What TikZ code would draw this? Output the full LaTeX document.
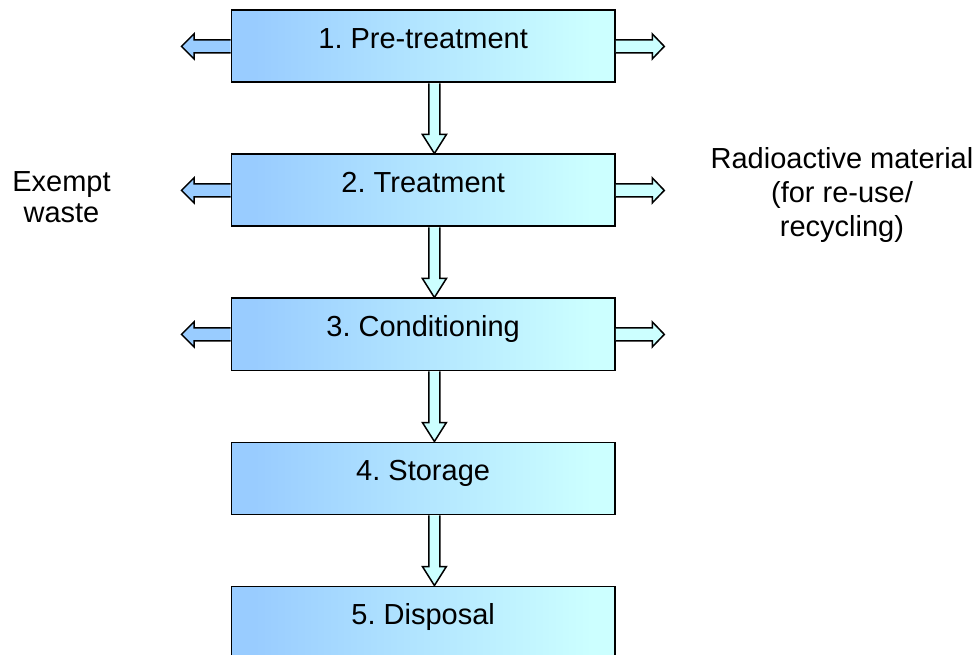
\documentclass[tikz,border=0pt]{standalone}
\usepackage{fontspec}
\setmainfont{Liberation Sans}
\usetikzlibrary{calc}
\frenchspacing

\definecolor{stepblue}{HTML}{99CCFF}
\definecolor{stepcyan}{HTML}{CCFFFF}
% horizontal fill of the step boxes: 25bp = left edge, 75bp = right edge
\pgfdeclarehorizontalshading{stepshade}{100bp}{%
  color(0bp)=(stepblue); color(28bp)=(stepblue);
  color(72bp)=(stepcyan); color(100bp)=(stepcyan)}

% hollow block arrow from the bottom of one step to the top of the next
\newcommand{\downfat}[2]{%
  \draw[fatarrow, fill=stepcyan]
    ($(#1.south)+(5.75,0)$) -- ($(#2.north)+(5.75,-19)$)
    -- ($(#2.north)+(-0.75,-19)$) -- ($(#2.north)+(11.25,0)$)
    -- ($(#2.north)+(23.25,-19)$) -- ($(#2.north)+(16.75,-19)$)
    -- ($(#1.south)+(16.75,0)$);}
% side outputs of a step
\newcommand{\leftfat}[1]{%
  \coordinate (#1-out-w) at ($(#1.west)+(-49,0)$);
  \draw[fatarrow, fill=stepblue]
    ($(#1.west)+(0,-6.5)$) -- ($(#1.west)+(-36.5,-6.5)$)
    -- ($(#1.west)+(-36.5,-12.5)$) -- (#1-out-w)
    -- ($(#1.west)+(-36.5,12.5)$) -- ($(#1.west)+(-36.5,6.5)$)
    -- ($(#1.west)+(0,6.5)$);}
\newcommand{\rightfat}[1]{%
  \coordinate (#1-out-e) at ($(#1.east)+(48.5,0)$);
  \draw[fatarrow, fill=stepcyan]
    ($(#1.east)+(0,-6.5)$) -- ($(#1.east)+(36.5,-6.5)$)
    -- ($(#1.east)+(36.5,-12.5)$) -- (#1-out-e)
    -- ($(#1.east)+(36.5,12.5)$) -- ($(#1.east)+(36.5,6.5)$)
    -- ($(#1.east)+(0,6.5)$);}

\begin{document}
\begin{tikzpicture}[x=1pt, y=-1pt,
  stepbox/.style={draw=black, line width=1.8pt, shade, shading=stepshade,
    minimum width=383.5pt, minimum height=72pt, inner sep=0pt,
    anchor=north west, font=\fontsize{29}{34}\selectfont,
    text height=20pt, text depth=15pt},
  fatarrow/.style={draw=black, line width=1.5pt, line join=miter},
  sidelabel/.style={align=center, anchor=base, inner sep=0pt}]
\useasboundingbox (0,0) rectangle (978,655);

\node[stepbox] (s1) at (230.5,9.5)   {1. Pre-treatment};
\node[stepbox] (s2) at (230.5,153.5) {2. Treatment};
\node[stepbox] (s3) at (230.5,297.5) {3. Conditioning};
\node[stepbox] (s4) at (230.5,441.5) {4. Storage};
\node[stepbox] (s5) at (230.5,585.5) {5. Disposal};

\downfat{s1}{s2}
\downfat{s2}{s3}
\downfat{s3}{s4}
\downfat{s4}{s5}

\leftfat{s1}  \rightfat{s1}
\leftfat{s2}  \rightfat{s2}
\leftfat{s3}  \rightfat{s3}

% base anchor sits on the last line of each label
\node[sidelabel, font=\fontsize{29}{31.5}\selectfont] (exempt) at (61.5,223)
  {Exempt\\waste};
\node[sidelabel, font=\fontsize{29}{34}\selectfont] (reuse) at (842,236.7)
  {Radioactive material\\(for re-use/\\recycling)};
\end{tikzpicture}
\end{document}
